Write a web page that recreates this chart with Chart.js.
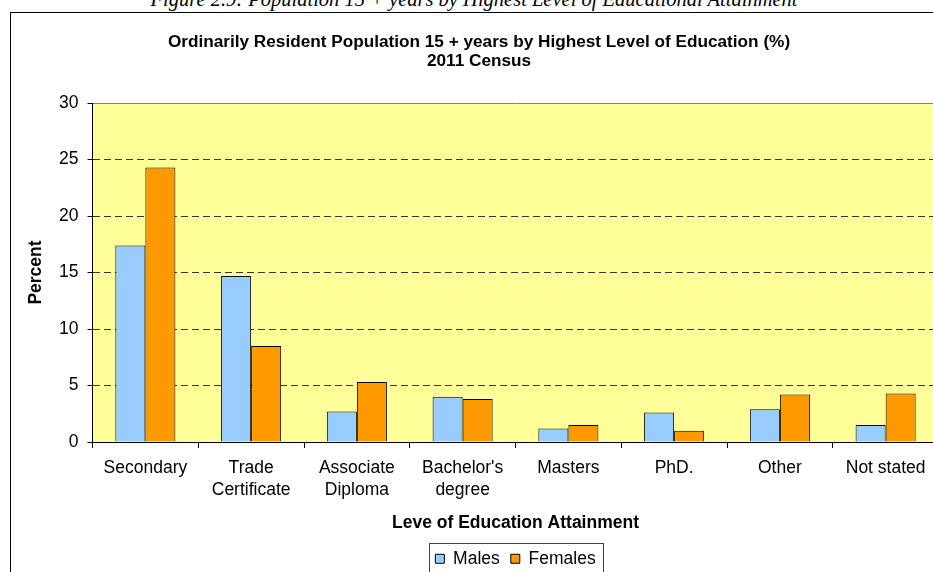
<!DOCTYPE html>
<html>
<head>
<meta charset="utf-8">
<title>Education attainment 2011</title>
<script src="https://cdn.jsdelivr.net/npm/chart.js@4.4.0/dist/chart.umd.min.js"></script>
<style>
  html, body { margin: 0; padding: 0; width: 933px; height: 572px; overflow: hidden; background: #fff; }
  #caption {
    position: absolute; left: 0; top: -12.5px; width: 948px;
    text-align: center; white-space: nowrap;
    font: italic 20.5px "Liberation Serif", "Times New Roman", serif; line-height: 22px;
  }
  #frame { position: absolute; left: 10px; top: 12px; width: 937px; height: 640px; border: 1px solid #000; }
  #chart { position: absolute; left: 0; top: 0; }
</style>
</head>
<body>
<div id="caption">Figure 2.9: Population 15 + years by Highest Level of Educational Attainment</div>
<div id="frame"></div>
<canvas id="chart" width="1031" height="600"></canvas>
<script>
//Data
const categories = [["Secondary"], ["Trade", "Certificate"], ["Associate", "Diploma"], ["Bachelor's", "degree"],
  ["Masters"], ["PhD."], ["Other"], ["Not stated"]];
const males = [17.4, 14.7, 2.7, 4.0, 1.2, 2.6, 2.9, 1.5];
const females = [24.3, 8.5, 5.3, 3.8, 1.5, 1.0, 4.2, 4.3];
const titleLines = ["Ordinarily Resident Population 15 + years by Highest Level of Education (%)", "2011 Census"];
const yMin = 0;
const yMax = 30;
const yStep = 5;

const FONT = '"Liberation Sans", Arial, Helvetica, sans-serif';
Chart.defaults.font.family = FONT;
Chart.defaults.font.size = 17.5;
Chart.defaults.color = '#000';

//yellow plot area + grey top border, excel style
const plotBackground = {
  id: 'plotBackground',
  beforeDraw(chart) {
    const {ctx, chartArea: a} = chart;
    ctx.save();
    ctx.fillStyle = '#FFFF99';
    ctx.fillRect(a.left, a.top, a.right - a.left, a.bottom - a.top);
    ctx.strokeStyle = '#808080';
    ctx.lineWidth = 1;
    ctx.beginPath();
    ctx.moveTo(a.left, Math.round(a.top) + 0.5);
    ctx.lineTo(a.right, Math.round(a.top) + 0.5);
    ctx.stroke();
    ctx.restore();
  }
};

//chart title sits centred on the chart frame, not on the plot
const frameTitle = {
  id: 'frameTitle',
  afterDraw(chart) {
    const ctx = chart.ctx;
    ctx.save();
    ctx.font = 'bold 17.2px ' + FONT;
    ctx.fillStyle = '#000';
    ctx.textAlign = 'center';
    ctx.textBaseline = 'alphabetic';
    ctx.fillText(titleLines[0], 479, 47.3);
    ctx.fillText(titleLines[1], 479, 65.7);
    ctx.restore();
  }
};

//box round the legend
const legendFrame = {
  id: 'legendFrame',
  afterDraw(chart) {
    const boxes = chart.legend.legendHitBoxes;
    if (!boxes || !boxes.length) return;
    const first = boxes[0];
    const last = boxes[boxes.length - 1];
    const ctx = chart.ctx;
    const left = Math.round(first.left - 6.5) + 0.5;
    const right = Math.round(last.left + last.width + 7) + 0.5;
    const top = Math.round(first.top - 7) + 0.5;
    const bottom = Math.round(first.top + first.height + 9) + 0.5;
    ctx.save();
    ctx.strokeStyle = '#404040';
    ctx.lineWidth = 1;
    ctx.strokeRect(left, top, right - left, bottom - top);
    ctx.restore();
  }
};

const eduData = {
  labels: categories,
  datasets: [{
    label: 'Males',
    data: males,
    backgroundColor: '#99CCFF',
    borderColor: '#000',
    borderWidth: 1
  }, {
    label: 'Females',
    data: females,
    backgroundColor: '#FF9900',
    borderColor: '#000',
    borderWidth: 1
  }]
};

const eduOptions = {
  responsive: false,
  animation: false,
  devicePixelRatio: 1,
  categoryPercentage: 0.568,
  barPercentage: 1,
  layout: {
    padding: { left: 10, right: 10, top: 103, bottom: 22.5 }
  },
  scales: {
    x: {
      offset: true,
      grid: {
        display: true,
        drawOnChartArea: false,
        drawTicks: true,
        tickLength: 6,
        color: '#000',
        offset: true
      },
      border: { display: true, color: '#000', width: 1 },
      ticks: {
        autoSkip: false,
        maxRotation: 0,
        padding: 9,
        font: { size: 17.5, lineHeight: 1.28 }
      },
      title: {
        display: true,
        text: 'Leve of Education Attainment',
        font: { size: 17.5, weight: 'bold' },
        padding: { top: 0, bottom: 5 }
      },
      afterFit(scale) { scale.height = 97; }
    },
    y: {
      min: yMin,
      max: yMax,
      ticks: { stepSize: yStep, padding: 9, font: { size: 17.5 } },
      grid: {
        color: ctx => (ctx.tick && (ctx.tick.value === yMin || ctx.tick.value === yMax)) ? 'rgba(0,0,0,0)' : '#333',
        tickColor: '#000',
        tickLength: 5,
        tickBorderDash: []
      },
      //in v4 border.dash dashes the grid lines
      border: { display: true, color: '#000', width: 1, dash: [7, 4] },
      title: {
        display: true,
        text: 'Percent',
        font: { size: 17.5, weight: 'bold' },
        padding: { top: 16, bottom: 0 }
      },
      afterFit(scale) { scale.width = 82.5; }
    },
    yRight: {
      type: 'linear',
      position: 'right',
      display: true,
      grid: { display: false },
      border: { display: false },
      ticks: { display: false },
      afterFit(scale) { scale.width = 82.5; }
    }
  },
  plugins: {
    legend: {
      position: 'bottom',
      labels: {
        boxWidth: 9,
        boxHeight: 9,
        padding: 11,
        font: { size: 17.5 }
      }
    },
    tooltip: { enabled: false }
  }
};

const eduChart = new Chart(document.getElementById('chart'), {
  type: 'bar',
  data: eduData,
  options: eduOptions,
  plugins: [plotBackground, frameTitle, legendFrame]
});
</script>
</body>
</html>
